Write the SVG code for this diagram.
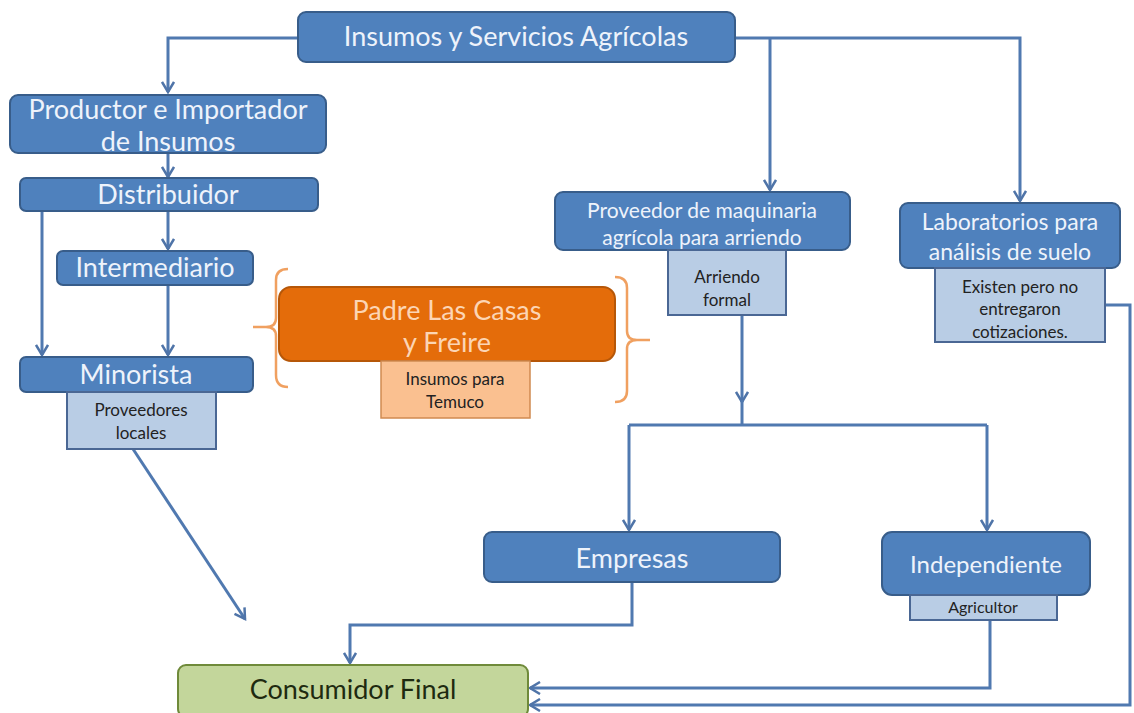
<svg xmlns="http://www.w3.org/2000/svg" width="1134" height="713" viewBox="0 0 1134 713">
<defs>
<marker id="arr" markerWidth="14" markerHeight="14" refX="11" refY="7" orient="auto" markerUnits="userSpaceOnUse" viewBox="0 0 14 14">
<path d="M1,1 L11,7 L1,13" fill="none" stroke="#4f74a8" stroke-width="2.5"/>
</marker>
</defs>
<style>
.bx{fill:#4f81bd;stroke:#385d8a;stroke-width:2}
.sub{fill:#b9cde5;stroke:#4a6794;stroke-width:2}
.t{font-family:Lato,"Open Sans","Liberation Sans",sans-serif;fill:#eef3fb;text-anchor:middle;font-size:27px}
.s{font-family:Lato,"Open Sans","Liberation Sans",sans-serif;fill:#222;text-anchor:middle;font-size:17px}
.c{fill:none;stroke:#5079b0;stroke-width:3}
.br{fill:none;stroke:#f0a060;stroke-width:2.5}
</style>
<rect width="1134" height="713" fill="#ffffff"/>
<g id="connectors">
<path class="c" d="M298,38 H168 V92" marker-end="url(#arr)"/>
<path class="c" d="M735,38 H1020 V201" marker-end="url(#arr)"/>
<path class="c" d="M770,38 V190" marker-end="url(#arr)"/>
<path class="c" d="M168,153 V177" marker-end="url(#arr)"/>
<path class="c" d="M168,211 V249" marker-end="url(#arr)"/>
<path class="c" d="M42,211 V355" marker-end="url(#arr)"/>
<path class="c" d="M168,285 V355" marker-end="url(#arr)"/>
<path class="c" d="M133,449 L245,619" marker-end="url(#arr)"/>
<path class="c" d="M742,315 V402" marker-end="url(#arr)"/>
<path class="c" d="M742,400 V425"/>
<path class="c" d="M629,425 H987"/>
<path class="c" d="M629,425 V530" marker-end="url(#arr)"/>
<path class="c" d="M987,425 V530" marker-end="url(#arr)"/>
<path class="c" d="M632,582 V625 H350 V663" marker-end="url(#arr)"/>
<path class="c" d="M990,620 V688 H530" marker-end="url(#arr)"/>
<path class="c" d="M1105,305 H1130 V705 H530" marker-end="url(#arr)"/>
</g>
<g id="n-insumos">
<rect class="bx" x="298" y="12" width="437" height="50" rx="8"/>
<text class="t" x="516" y="46">Insumos y Servicios Agrícolas</text>
</g>
<g id="n-productor">
<rect class="bx" x="10" y="95" width="316" height="58" rx="8"/>
<text class="t" x="168" y="119">Productor e Importador</text>
<text class="t" x="168" y="151">de Insumos</text>
</g>
<g id="n-distribuidor">
<rect class="bx" x="20" y="178" width="298" height="33" rx="6"/>
<text class="t" x="168" y="204">Distribuidor</text>
</g>
<g id="n-intermediario">
<rect class="bx" x="57" y="251" width="196" height="34" rx="6"/>
<text class="t" x="155" y="277">Intermediario</text>
</g>
<g id="n-minorista">
<rect class="bx" x="20" y="357" width="233" height="35" rx="6"/>
<text class="t" x="136" y="384">Minorista</text>
<rect class="sub" x="67" y="392" width="149" height="57"/>
<text class="s" x="141" y="416">Proveedores</text>
<text class="s" x="141" y="439">locales</text>
</g>
<g id="n-padre">
<path class="br" d="M288,269 Q276,269 276,280 V318 Q276,327 266,327 H253 M266,327 Q276,327 276,336 V375 Q276,387 288,387"/>
<path class="br" d="M615,277 Q627,277 627,288 V331 Q627,340 637,340 H650 M637,340 Q627,340 627,349 V391 Q627,402 615,402"/>
<rect x="279" y="287" width="336" height="74" rx="12" fill="#e46c0a" stroke="#b65708" stroke-width="2"/>
<text class="t" x="447" y="320" style="fill:#fcd5b4">Padre Las Casas</text>
<text class="t" x="447" y="352" style="fill:#fcd5b4">y Freire</text>
<rect x="381" y="361" width="149" height="57" fill="#fac090" stroke="#d08a50" stroke-width="1.5"/>
<text class="s" x="455" y="385">Insumos para</text>
<text class="s" x="455" y="408">Temuco</text>
</g>
<g id="n-proveedor">
<rect class="bx" x="555" y="192" width="295" height="58" rx="8"/>
<text class="t" x="702" y="218" style="font-size:21px">Proveedor de maquinaria</text>
<text class="t" x="702" y="245" style="font-size:21px">agrícola para arriendo</text>
<rect class="sub" x="668" y="250" width="118" height="65"/>
<text class="s" x="727" y="283">Arriendo</text>
<text class="s" x="727" y="306">formal</text>
</g>
<g id="n-laboratorios">
<rect class="bx" x="900" y="203" width="220" height="65" rx="8"/>
<text class="t" x="1010" y="230" style="font-size:23px">Laboratorios para</text>
<text class="t" x="1010" y="260" style="font-size:23px">análisis de suelo</text>
<rect class="sub" x="935" y="268" width="170" height="74"/>
<text class="s" x="1020" y="293">Existen pero no</text>
<text class="s" x="1020" y="315">entregaron</text>
<text class="s" x="1020" y="338">cotizaciones.</text>
</g>
<g id="n-empresas">
<rect class="bx" x="484" y="532" width="296" height="50" rx="8"/>
<text class="t" x="632" y="568">Empresas</text>
</g>
<g id="n-independiente">
<rect class="bx" x="882" y="532" width="208" height="63" rx="10"/>
<text class="t" x="986" y="573" style="font-size:24px">Independiente</text>
<rect class="sub" x="910" y="595" width="147" height="25"/>
<text class="s" x="983" y="613" style="font-size:16px">Agricultor</text>
</g>
<g id="n-consumidor">
<rect x="178" y="665" width="350" height="52" rx="8" fill="#c3d69b" stroke="#6f8a3a" stroke-width="2"/>
<text x="353" y="699" font-family="Lato,'Open Sans','Liberation Sans',sans-serif" font-size="27" fill="#1e2a10" text-anchor="middle">Consumidor Final</text>
</g>
</svg>
